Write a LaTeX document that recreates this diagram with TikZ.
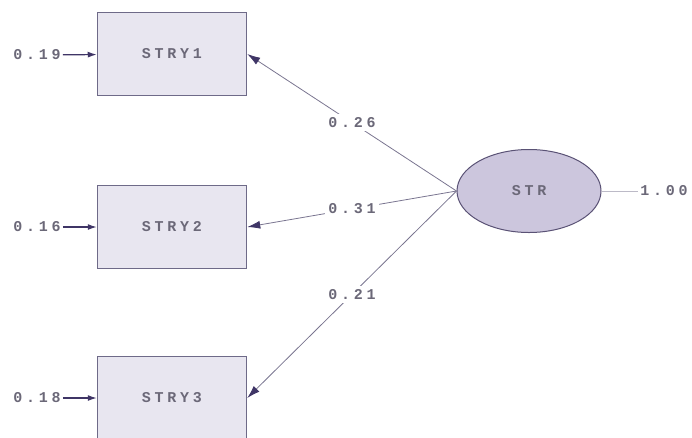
\documentclass[tikz,border=0pt]{standalone}
\usepackage{fontspec}
\usetikzlibrary{shapes.geometric,arrows.meta}
\newfontfamily\lisfont[LetterSpace=25]{Liberation Mono}
\definecolor{boxfill}{HTML}{E8E6F0}
\definecolor{boxline}{HTML}{6E6A88}
\definecolor{ovalfill}{HTML}{CCC6DD}
\definecolor{ovalline}{HTML}{5A5275}
\definecolor{txtcol}{HTML}{6B6878}
\definecolor{pathcol}{HTML}{7A7590}
\definecolor{headcol}{HTML}{3F3566}

\begin{document}
\begin{tikzpicture}[x=1pt,y=-1pt,font=\lisfont\bfseries\fontsize{15}{17}\selectfont]
\useasboundingbox (0,0) rectangle (692,437);
\clip (0,0) rectangle (692,437);
\tikzstyle{obs}=[rectangle,draw=boxline,line width=1.5pt,fill=boxfill,minimum width=149pt,minimum height=83pt,inner sep=0pt,text=txtcol]
\tikzstyle{lat}=[ellipse,draw=ovalline,line width=1pt,fill=ovalfill,minimum width=144pt,minimum height=83pt,inner sep=0pt,text=txtcol]
\tikzstyle{val}=[text=txtcol,inner sep=2pt]
\tikzstyle{load}=[text=txtcol,fill=white,inner sep=3pt]
\tikzstyle{path}=[color=pathcol,line width=0.8pt,-{Latex[length=13pt,width=8pt,color=headcol]}]
\tikzstyle{err}=[color=headcol,line width=1.2pt,-{Latex[length=9pt,width=6pt,color=headcol]}]

\node[obs] (stry1) at (172,54) {STRY1};
\node[obs] (stry2) at (172,227) {STRY2};
\node[obs] (stry3) at (172,398) {STRY3};
\node[lat] (str) at (529,191) {STR};

\node[val] (e1) at (37,55) {0.19};
\node[val] (e2) at (37,227) {0.16};
\node[val] (e3) at (37,398) {0.18};
\node[val] (v1) at (664,191) {1.00};

\draw[err] (e1) to (stry1);
\draw[err] (e2) to (stry2);
\draw[err] (e3) to (stry3);

\draw[path] (str.west) to node[load] {0.26} (stry1.east);
\draw[path] (str.west) to node[load] {0.31} (stry2.east);
\draw[path] (str.west) to node[load] {0.21} (stry3.east);
\draw[color=pathcol!50,line width=0.8pt] (str) to (v1);
\end{tikzpicture}
\end{document}
